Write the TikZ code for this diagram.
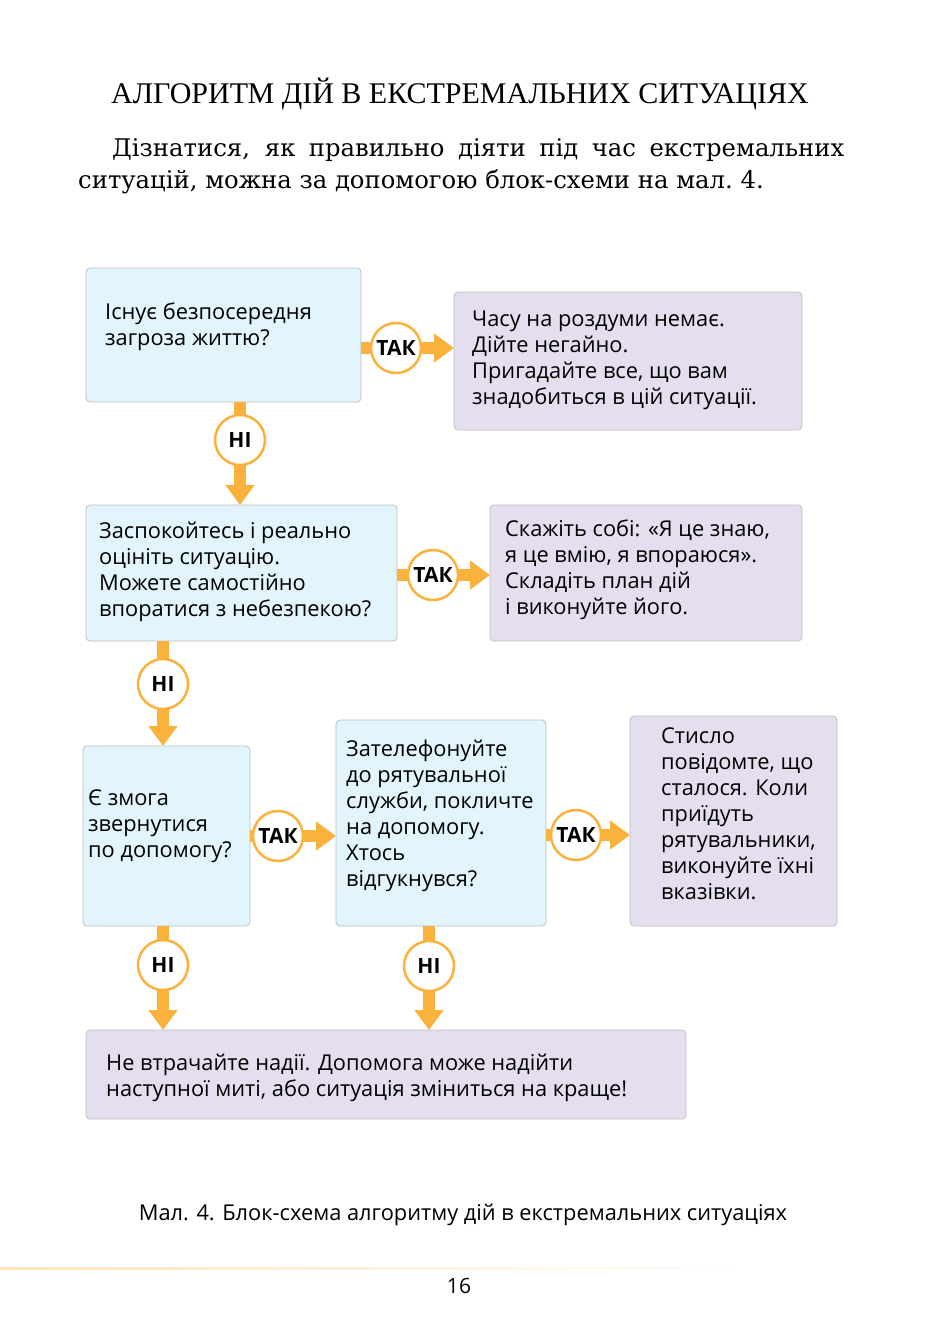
\documentclass[tikz,border=0pt]{standalone}
\usepackage{fontspec}
\setmainfont{Liberation Serif}
\newfontfamily\bodyfont{Open Sans}
\newfontfamily\introfont{DejaVu Serif}
\usetikzlibrary{positioning,arrows.meta,calc}
\definecolor{alBlue}{RGB}{226,244,252}
\definecolor{alLilac}{RGB}{228,222,238}
\definecolor{alEdge}{RGB}{190,190,195}
\definecolor{alOrange}{RGB}{250,178,60}
\tikzset{
    box/.style={draw=alEdge, rounded corners=4pt, line width=0.8pt},
    ask/.style={box, fill=alBlue},
    act/.style={box, fill=alLilac},
    txt/.style={anchor=north west, align=left, inner sep=0pt,
                font=\bodyfont\fontsize{21.8}{26}\selectfont},
    flow/.style={draw=alOrange, line width=12pt, -{Triangle[length=20pt,width=28pt]}},
    answer/.style={circle, draw=alOrange, line width=2.5pt, fill=white,
                 minimum size=50pt, inner sep=0pt,
                 font=\bodyfont\bfseries\fontsize{21}{21}\selectfont}
}
\begin{document}
\begin{tikzpicture}[x=1pt,y=-1pt]
  \useasboundingbox (0,0) rectangle (924,1332);
  % heading
  \node[font=\fontsize{30}{34}\selectfont] (title) at (460,94) {АЛГОРИТМ ДІЙ В ЕКСТРЕМАЛЬНИХ СИТУАЦІЯХ};
  \node[anchor=north west, text width=766pt, align=justify, inner sep=0pt,
        font=\introfont\fontsize{24.3}{32}\selectfont] (intro) at (78,138)
    {\hspace*{34pt}Дізнатися, як правильно діяти під час екстремальних\linebreak ситуацій, можна за допомогою блок-схеми на мал.~4.};

  % boxes
  \path[ask] (86,268) rectangle (361,402);
  \path[act] (454,292) rectangle (802,430);
  \path[ask] (86,505) rectangle (397,641);
  \path[act] (490,505) rectangle (802,641);
  \path[ask] (83,746) rectangle (250,926);
  \path[ask] (336,720) rectangle (546,926);
  \path[act] (630,716) rectangle (837,926);
  \path[act] (86,1030) rectangle (686,1119);

  % texts
  \node[txt] (q1) at (105,303) {Існує безпосередня\\загроза життю?};
  \node[txt] (a1) at (472,311) {Часу на роздуми немає.\\Дійте негайно.\\Пригадайте все, що вам\\знадобиться в цій ситуації.};
  \node[txt] (q2) at (99,522) {Заспокойтесь і реально\\оцініть ситуацію.\\Можете самостійно\\впоратися з небезпекою?};
  \node[txt] (a2) at (505,520) {Скажіть собі: «Я це знаю,\\я це вмію, я впораюся».\\Складіть план дій\\і виконуйте його.};
  \node[txt] (q3) at (88,789) {Є змога\\звернутися\\по допомогу?};
  \node[txt] (q4) at (346,740) {Зателефонуйте\\до рятувальної\\служби, покличте\\на допомогу.\\Хтось\\відгукнувся?};
  \node[txt] (a3) at (661,728) {Стисло\\повідомте, що\\сталося. Коли\\приїдуть\\рятувальники,\\виконуйте їхні\\вказівки.};
  \node[txt] (a4) at (106,1054) {Не втрачайте надії. Допомога може надійти\\наступної миті, або ситуація зміниться на краще!};

  % connectors
  \coordinate (s1) at (361,348);  \coordinate (e1) at (454,348);
  \coordinate (s2) at (240,402);  \coordinate (e2) at (240,505);
  \coordinate (s3) at (397,575);  \coordinate (e3) at (490,575);
  \coordinate (s4) at (163,641);  \coordinate (e4) at (163,746);
  \coordinate (s5) at (250,836);  \coordinate (e5) at (336,836);
  \coordinate (s6) at (546,835);  \coordinate (e6) at (630,835);
  \coordinate (s7) at (163,926);  \coordinate (e7) at (163,1030);
  \coordinate (s8) at (429,926);  \coordinate (e8) at (429,1030);
  \foreach \i in {1,...,8} {\draw[flow] (s\i) -- (e\i);}

  \node[answer] (t1) at (396,348) {ТАК};
  \node[answer] (n1) at (240,440) {НІ};
  \node[answer] (t2) at (433,575) {ТАК};
  \node[answer] (n2) at (163,684) {НІ};
  \node[answer] (t3) at (278,836) {ТАК};
  \node[answer] (t4) at (576,835) {ТАК};
  \node[answer] (n3) at (163,965) {НІ};
  \node[answer] (n4) at (429,966) {НІ};

  % caption and page number
  \node[font=\bodyfont\fontsize{21.8}{24}\selectfont] (cap) at (463,1215) {Мал. 4. Блок-схема алгоритму дій в екстремальних ситуаціях};
  \shade[left color=alOrange!35, right color=white] (0,1267) rectangle (750,1269);
  \node[font=\bodyfont\fontsize{21}{22}\selectfont] (page) at (459,1286) {16};
\end{tikzpicture}
\end{document}
